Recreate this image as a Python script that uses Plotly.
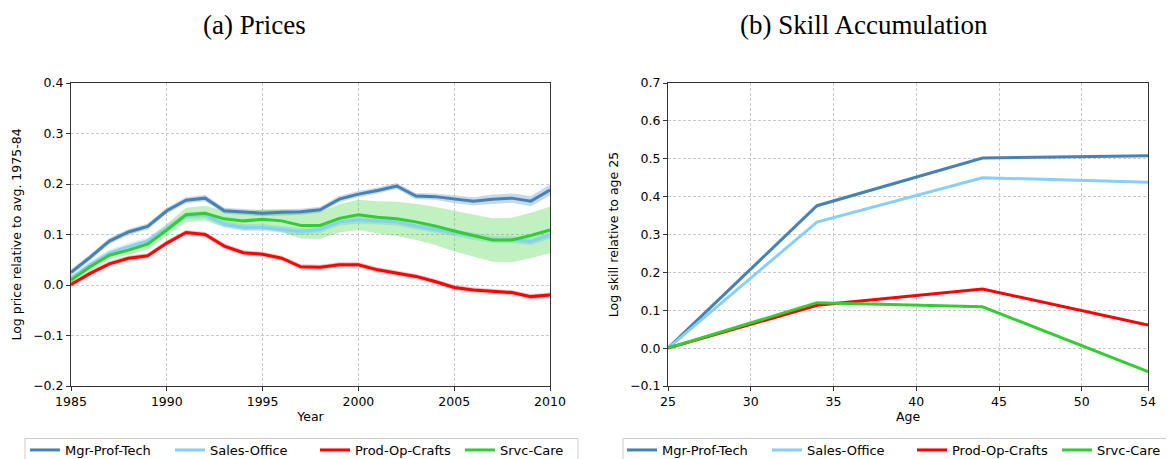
import plotly.graph_objects as go

years = list(range(1985, 2011))
mgr = [0.025, 0.055, 0.087, 0.105, 0.116, 0.147, 0.168, 0.172, 0.147, 0.145, 0.142, 0.144, 0.145,
       0.149, 0.170, 0.180, 0.187, 0.196, 0.176, 0.175, 0.170, 0.166, 0.170, 0.172, 0.166, 0.188]
sales = [0.013, 0.040, 0.063, 0.076, 0.087, 0.112, 0.137, 0.139, 0.121, 0.114, 0.114, 0.110, 0.106,
         0.110, 0.125, 0.129, 0.127, 0.125, 0.117, 0.110, 0.104, 0.096, 0.090, 0.090, 0.086, 0.099]
prod = [0.001, 0.023, 0.042, 0.053, 0.058, 0.083, 0.104, 0.100, 0.077, 0.064, 0.061, 0.053, 0.036,
        0.035, 0.040, 0.040, 0.030, 0.024, 0.017, 0.007, -0.005, -0.010, -0.012, -0.015, -0.023, -0.020]
srvc = [0.010, 0.036, 0.059, 0.069, 0.081, 0.109, 0.139, 0.142, 0.131, 0.127, 0.130, 0.127, 0.118,
        0.118, 0.132, 0.139, 0.134, 0.131, 0.125, 0.117, 0.107, 0.098, 0.089, 0.089, 0.098, 0.109]
# half-widths of the confidence bands
mgr_hw = [0.006] * 20 + [0.008, 0.008, 0.009, 0.009, 0.010, 0.011]
sales_hw = [0.007] * 26
prod_hw = [0.005] * 26
srvc_hw = [0.005, 0.007, 0.008, 0.009, 0.010, 0.012, 0.014, 0.015, 0.016, 0.018, 0.020, 0.022, 0.026,
           0.027, 0.028, 0.030, 0.032, 0.034, 0.036, 0.038, 0.040, 0.042, 0.043, 0.044, 0.045, 0.046]

ages = [25, 34, 44, 54]
skill_mgr = [0.0, 0.376, 0.502, 0.508]
skill_sales = [0.0, 0.333, 0.450, 0.438]
skill_prod = [0.0, 0.113, 0.156, 0.061]
skill_srvc = [0.0, 0.120, 0.109, -0.062]

names = ["Mgr-Prof-Tech", "Sales-Office", "Prod-Op-Crafts", "Srvc-Care"]
colors = ["#4682B4", "#87CEFA", "#FF0000", "#32CD32"]
band_colors = ["rgba(70,130,180,0.3)", "rgba(135,206,250,0.35)", "rgba(255,0,0,0.25)", "rgba(50,205,50,0.3)"]

fig = go.Figure()

price_series = [mgr, sales, prod, srvc]
price_hw = [mgr_hw, sales_hw, prod_hw, srvc_hw]
for s, hw, bc in zip(price_series, price_hw, band_colors):
    upper = [v + h for v, h in zip(s, hw)]
    lower = [v - h for v, h in zip(s, hw)]
    fig.add_trace(go.Scatter(x=years + years[::-1], y=upper + lower[::-1], fill="toself",
                             fillcolor=bc, line=dict(width=0), mode="lines",
                             showlegend=False, hoverinfo="skip", xaxis="x", yaxis="y"))
for s, n, c in zip(price_series, names, colors):
    fig.add_trace(go.Scatter(x=years, y=s, mode="lines", name=n, line=dict(color=c, width=3),
                             xaxis="x", yaxis="y", legend="legend"))

skill_series = [skill_mgr, skill_sales, skill_prod, skill_srvc]
for s, n, c in zip(skill_series, names, colors):
    fig.add_trace(go.Scatter(x=ages, y=s, mode="lines", name=n, line=dict(color=c, width=3),
                             xaxis="x2", yaxis="y2", legend="legend2"))

W = 1174
H = 459
OFF = 8  # page body margin offset
def py(p):
    return 1 - (p - OFF) / H
def px(p):
    return (p - OFF) / W

FS = 12.5
axis_common = dict(showline=True, linecolor="#333333", linewidth=1, mirror=True,
                   ticks="outside", ticklen=4, tickcolor="#333333", automargin=False,
                   showgrid=True, gridcolor="#c8c8c8", griddash="3px,2px", gridwidth=1,
                   zeroline=False, tickfont=dict(size=FS, color="black"),
                   title_font=dict(size=FS, color="black"))

legend_common = dict(orientation="h", xanchor="left", yanchor="top", bgcolor="rgba(0,0,0,0)",
                     borderwidth=0, font=dict(size=13), entrywidth=100, itemwidth=30, tracegroupgap=0)

fig.update_layout(
    template="none",
    width=W, height=H,
    margin=dict(l=0, r=0, t=0, b=0, autoexpand=False),
    paper_bgcolor="white", plot_bgcolor="white",
    font=dict(family="DejaVu Sans", size=FS, color="black"),
    xaxis=dict(domain=[px(71), px(550)], range=[1985, 2010], tickvals=[1985, 1990, 1995, 2000, 2005, 2010],
               anchor="y", title=dict(text="Year", standoff=4), **axis_common),
    yaxis=dict(domain=[py(386), py(83)], range=[-0.2, 0.4], tickvals=[-0.2, -0.1, 0, 0.1, 0.2, 0.3, 0.4],
               tickformat=".1f", anchor="x", title=dict(text="Log price relative to avg. 1975-84", standoff=8),
               **axis_common),
    xaxis2=dict(domain=[px(668), px(1148)], range=[25, 54], tickvals=[25, 30, 35, 40, 45, 50, 54],
                anchor="y2", title=dict(text="Age", standoff=4), **axis_common),
    yaxis2=dict(domain=[py(386), py(83)], range=[-0.1, 0.7], tickvals=[-0.1, 0, 0.1, 0.2, 0.3, 0.4, 0.5, 0.6, 0.7],
                tickformat=".1f", anchor="x2", title=dict(text="Log skill relative to age 25", standoff=8),
                **axis_common),
    legend=dict(x=px(25), y=py(435), **legend_common),
    legend2=dict(x=px(622), y=py(435), **legend_common),
    shapes=[
        dict(type="rect", xref="paper", yref="paper", x0=px(25), x1=px(578), y0=py(480), y1=py(438.5),
             line=dict(color="#cccccc", width=1), fillcolor="rgba(0,0,0,0)", layer="above"),
        dict(type="rect", xref="paper", yref="paper", x0=px(623), x1=px(1200), y0=py(480), y1=py(438.5),
             line=dict(color="#cccccc", width=1), fillcolor="rgba(0,0,0,0)", layer="above"),
    ],
    annotations=[
        dict(text="(a) Prices", x=px(254), y=py(25), xref="paper", yref="paper", showarrow=False,
             font=dict(family="Liberation Serif", size=27, color="black"), xanchor="center", yanchor="middle"),
        dict(text="(b) Skill Accumulation", x=px(864), y=py(25), xref="paper", yref="paper", showarrow=False,
             font=dict(family="Liberation Serif", size=27, color="black"), xanchor="center", yanchor="middle"),
    ],
)

fig.write_html("out.html")
